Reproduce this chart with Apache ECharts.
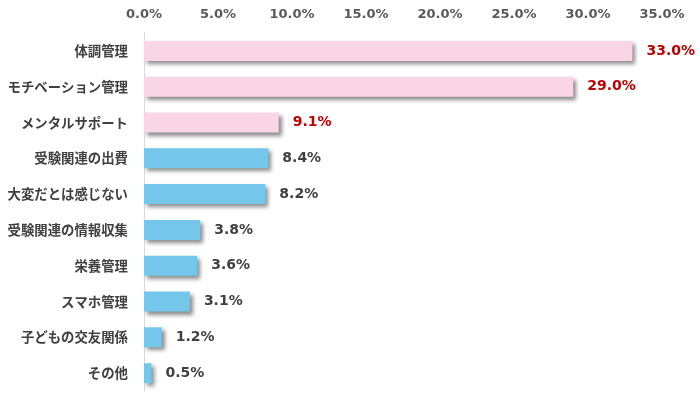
<!DOCTYPE html>
<html><head><meta charset="utf-8">
<script src="https://cdn.jsdelivr.net/npm/echarts@6/dist/echarts.min.js"></script>
<style>html,body{margin:0;padding:0;background:#fff}#c{width:700px;height:396px}</style>
</head><body><div id="c"></div>
<script>
const categories = ['体調管理','モチベーション管理','メンタルサポート','受験関連の出費','大変だとは感じない','受験関連の情報収集','栄養管理','スマホ管理','子どもの交友関係','その他'];
const values = [33.0, 29.0, 9.1, 8.4, 8.2, 3.8, 3.6, 3.1, 1.2, 0.5];
const highlighted = [true, true, true, false, false, false, false, false, false, false];
const tickMax = 35;
const tickStep = 5;

const numFont = '"DejaVu Sans", "Noto Sans CJK JP", sans-serif';
const jpFont = '"Noto Sans CJK JP", sans-serif';
const chart = echarts.init(document.getElementById('c'));
chart.setOption({
  animation: false,
  grid: { left: 144, right: 38, top: 33, bottom: 5, containLabel: false },
  xAxis: {
    type: 'value', position: 'top', min: 0, max: tickMax, interval: tickStep,
    axisLine: { show: false }, axisTick: { show: false }, splitLine: { show: false },
    axisLabel: { formatter: v => v.toFixed(1) + '%', color: '#595959', fontWeight: 'bold', fontSize: 13, fontFamily: numFont, margin: 12 }
  },
  yAxis: {
    type: 'category', inverse: true, data: categories,
    axisLine: { show: true, lineStyle: { color: '#D9D9D9', width: 1 } },
    axisTick: { show: false },
    axisLabel: { color: '#404040', fontWeight: 'bold', fontSize: 13.4, fontFamily: jpFont, margin: 16 }
  },
  series: [{
    type: 'bar', barWidth: 20,
    data: values.map((v, i) => ({
      value: v,
      itemStyle: { color: highlighted[i] ? '#F9D5E5' : '#74C7EA' },
      label: { color: highlighted[i] ? '#C00000' : '#404040' }
    })),
    itemStyle: { shadowColor: 'rgba(0,0,0,0.45)', shadowBlur: 4, shadowOffsetX: 3, shadowOffsetY: 3 },
    label: { show: true, position: 'right', distance: 14, formatter: p => p.value.toFixed(1) + '%', fontWeight: 'bold', fontSize: 14, fontFamily: numFont }
  }]
});
</script></body></html>
